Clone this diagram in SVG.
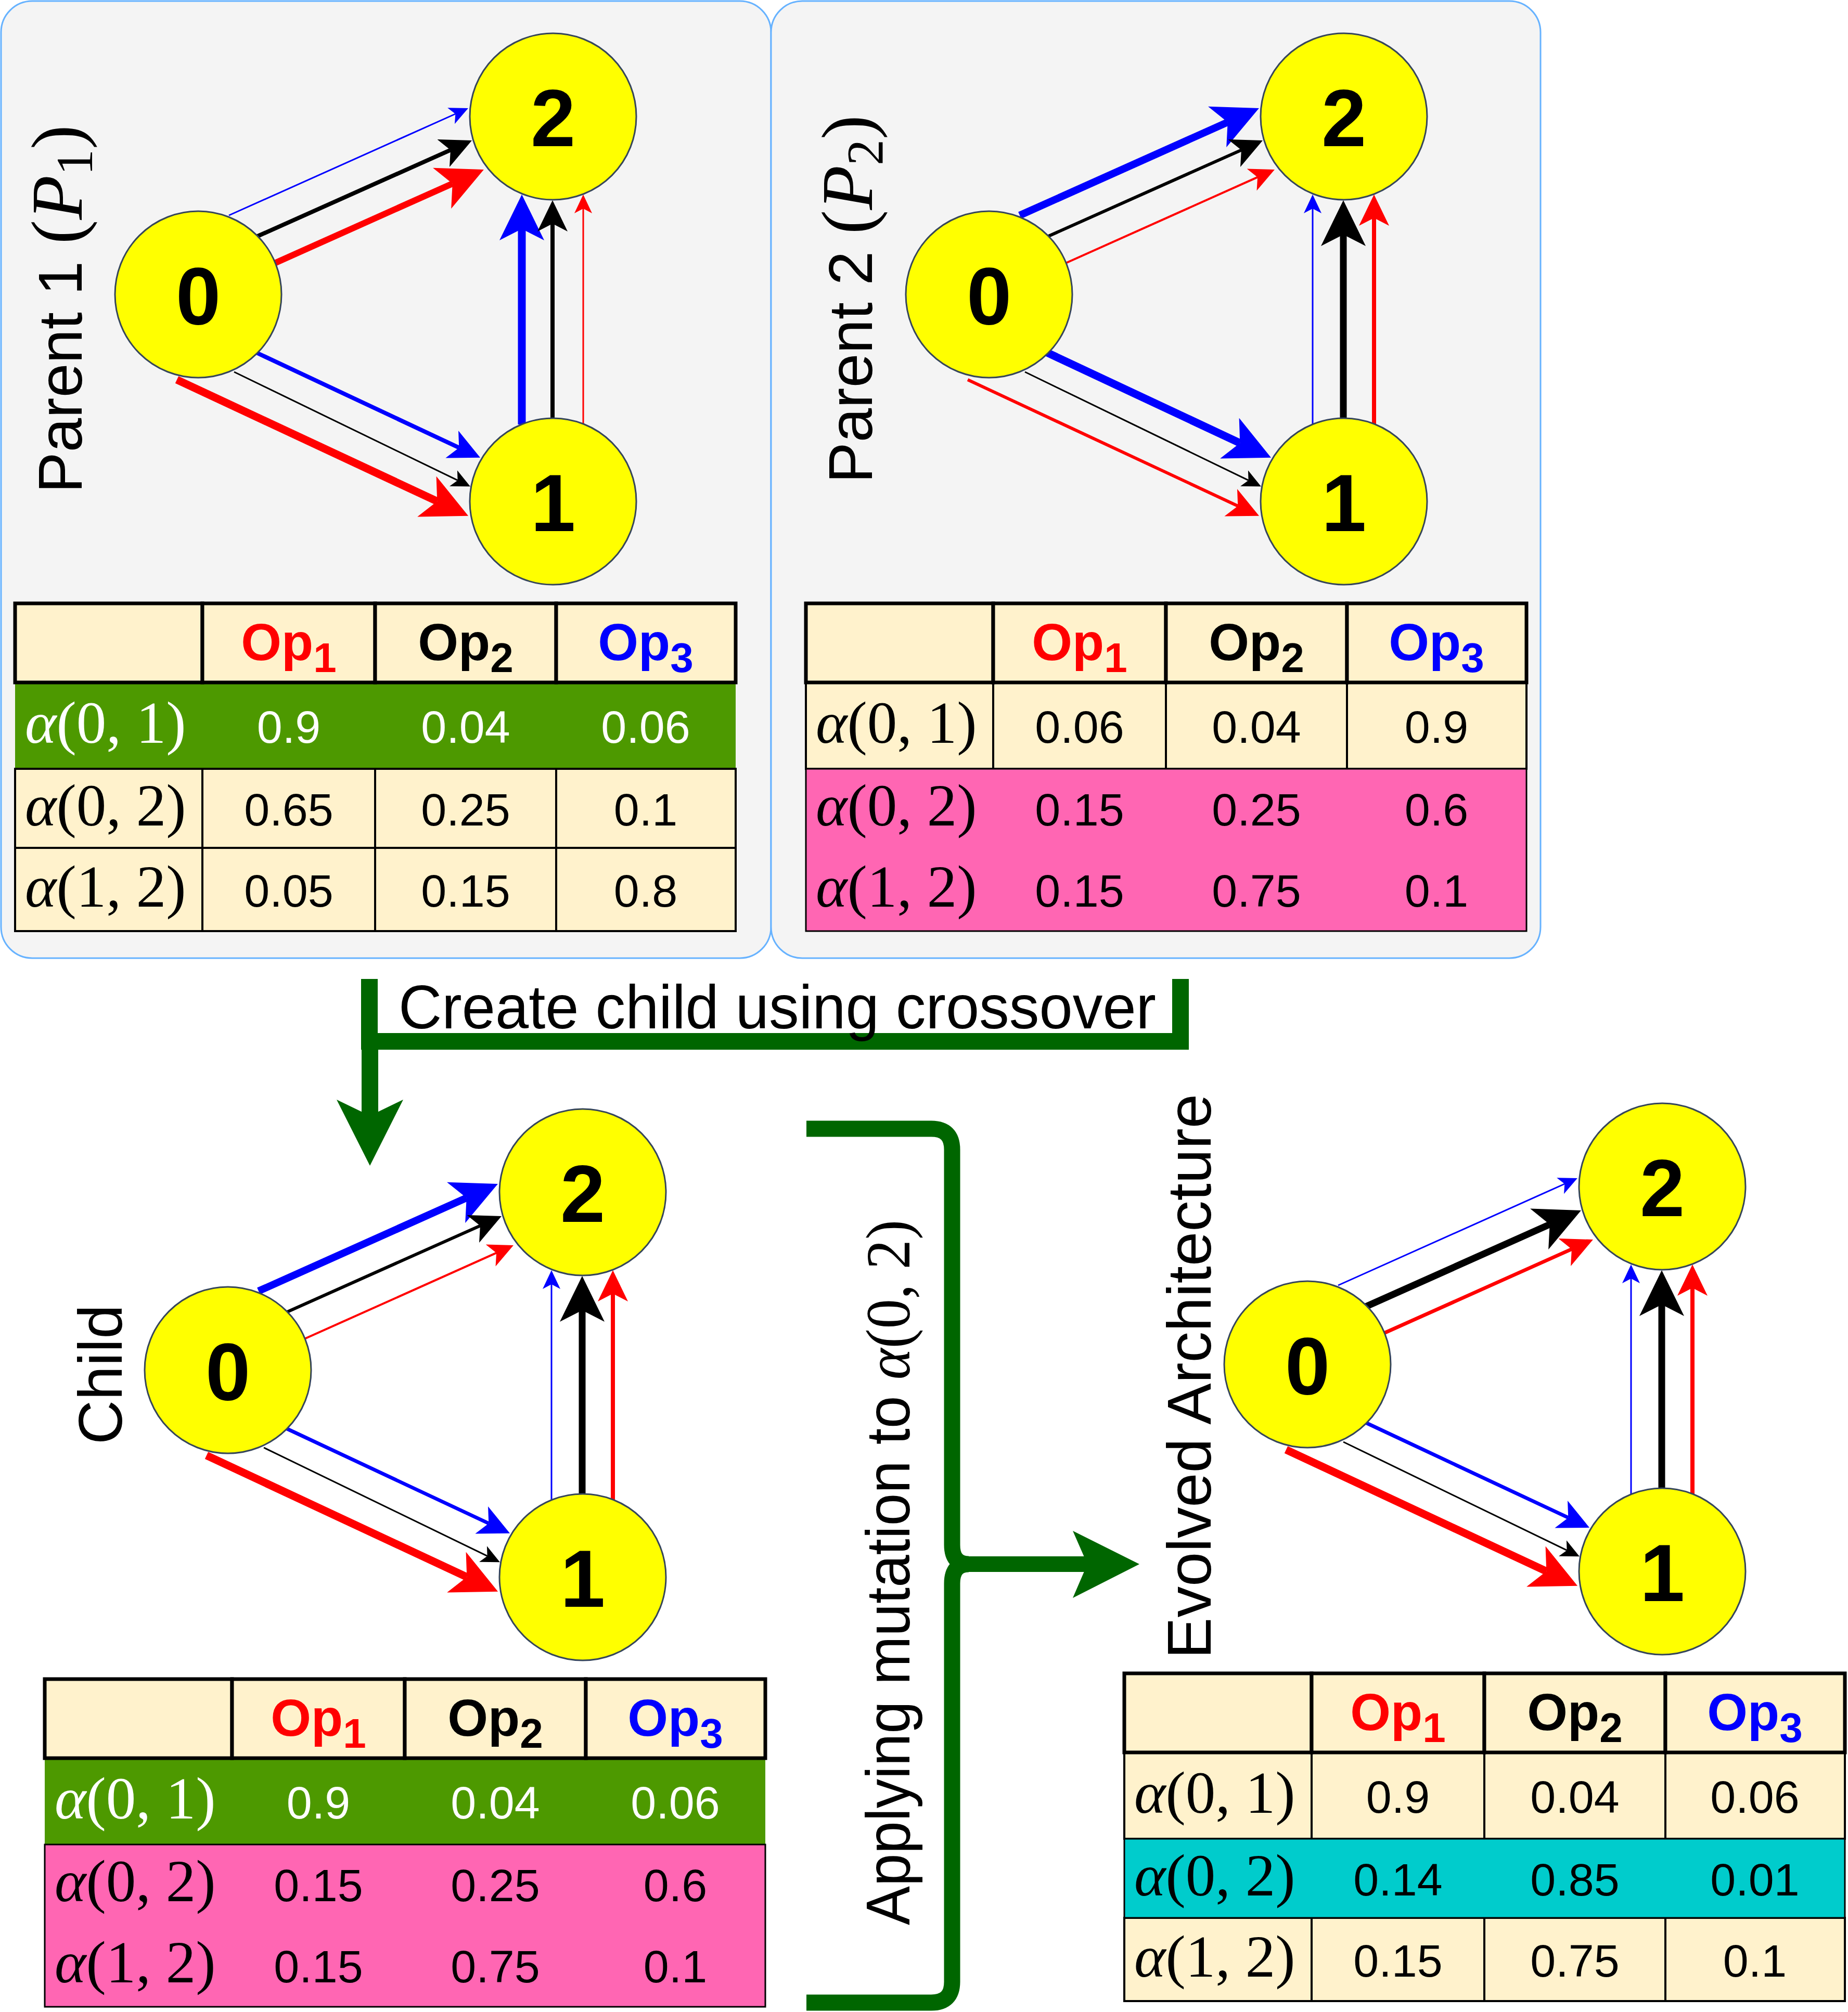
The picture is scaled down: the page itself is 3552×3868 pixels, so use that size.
<svg xmlns="http://www.w3.org/2000/svg" width="3552" height="3868" viewBox="0 0 3552 3868">
<style>
.panel{fill:#f4f4f4;stroke:#66b2ff;stroke-width:3}
.node circle{fill:#ffff00;stroke:#36465a;stroke-width:3}
.node text{font-family:'Liberation Sans',Arial,sans-serif;font-weight:bold;font-size:155px;text-anchor:middle;fill:#000}
.lab{font-family:'Liberation Sans',Arial,sans-serif;font-size:118px;fill:#000}
.math{font-family:'Liberation Serif','Times New Roman',serif}
.it{font-style:italic}
.num{font-family:'Liberation Sans',Arial,sans-serif;font-size:88px;text-anchor:middle;fill:#000}
.al{font-family:'Liberation Serif','Times New Roman',serif;font-size:115px;fill:#000}
.w .num,.w .al{fill:#fff}
.op{font-family:'Liberation Sans',Arial,sans-serif;font-weight:bold;font-size:100px;text-anchor:middle}
.hdr{fill:#fff2cc;stroke:#000;stroke-width:7}
.cell{fill:#fff2cc;stroke:#000;stroke-width:4}
.green{fill:#4d9900}
.pink{fill:#ff66b3;stroke:#000;stroke-width:3}
.cyan{fill:#00cccc;stroke:#000;stroke-width:3}
.e{fill:none;stroke-linecap:butt}
.r{stroke:#ff0000}.k{stroke:#000000}.b{stroke:#0000ff}
.g{fill:none;stroke:#006600}
</style>
<defs>
<marker id="r-t" viewBox="0 0 36 34" refX="9" refY="17" markerWidth="36" markerHeight="34" markerUnits="userSpaceOnUse" orient="auto"><path d="M0,0 L36,17 L0,34 L9,17 Z" fill="#ff0000"/></marker>
<marker id="r-s" viewBox="0 0 48 46" refX="12" refY="23" markerWidth="48" markerHeight="46" markerUnits="userSpaceOnUse" orient="auto"><path d="M0,0 L48,23 L0,46 L12,23 Z" fill="#ff0000"/></marker>
<marker id="r-m" viewBox="0 0 60 58" refX="15" refY="29" markerWidth="60" markerHeight="58" markerUnits="userSpaceOnUse" orient="auto"><path d="M0,0 L60,29 L0,58 L15,29 Z" fill="#ff0000"/></marker>
<marker id="r-k" viewBox="0 0 88 86" refX="22" refY="43" markerWidth="88" markerHeight="86" markerUnits="userSpaceOnUse" orient="auto"><path d="M0,0 L88,43 L0,86 L22,43 Z" fill="#ff0000"/></marker>
<marker id="k-t" viewBox="0 0 36 34" refX="9" refY="17" markerWidth="36" markerHeight="34" markerUnits="userSpaceOnUse" orient="auto"><path d="M0,0 L36,17 L0,34 L9,17 Z" fill="#000"/></marker>
<marker id="k-m" viewBox="0 0 60 58" refX="15" refY="29" markerWidth="60" markerHeight="58" markerUnits="userSpaceOnUse" orient="auto"><path d="M0,0 L60,29 L0,58 L15,29 Z" fill="#000"/></marker>
<marker id="k-k" viewBox="0 0 88 86" refX="22" refY="43" markerWidth="88" markerHeight="86" markerUnits="userSpaceOnUse" orient="auto"><path d="M0,0 L88,43 L0,86 L22,43 Z" fill="#000"/></marker>
<marker id="b-t" viewBox="0 0 36 34" refX="9" refY="17" markerWidth="36" markerHeight="34" markerUnits="userSpaceOnUse" orient="auto"><path d="M0,0 L36,17 L0,34 L9,17 Z" fill="#0000ff"/></marker>
<marker id="b-m" viewBox="0 0 60 58" refX="15" refY="29" markerWidth="60" markerHeight="58" markerUnits="userSpaceOnUse" orient="auto"><path d="M0,0 L60,29 L0,58 L15,29 Z" fill="#0000ff"/></marker>
<marker id="b-k" viewBox="0 0 88 86" refX="22" refY="43" markerWidth="88" markerHeight="86" markerUnits="userSpaceOnUse" orient="auto"><path d="M0,0 L88,43 L0,86 L22,43 Z" fill="#0000ff"/></marker>
</defs>

<rect width="3552" height="3868" fill="#ffffff"/>

<g id="panels">
<rect id="panel-p1" class="panel" x="2" y="2" width="1480" height="1840" rx="60"/>
<rect id="panel-p2" class="panel" x="1482" y="2" width="1479" height="1840" rx="60"/>
</g>

<g id="labels">
<text class="lab" transform="translate(157,948) rotate(-90)">Parent 1 <tspan class="math" font-size="140">(</tspan><tspan class="math it" font-size="140">P</tspan><tspan class="math" font-size="100" dy="20">1</tspan><tspan class="math" font-size="140" dy="-20">)</tspan></text>
<text class="lab" transform="translate(1676,929) rotate(-90)">Parent 2 <tspan class="math" font-size="140">(</tspan><tspan class="math it" font-size="140">P</tspan><tspan class="math" font-size="100" dy="20">2</tspan><tspan class="math" font-size="140" dy="-20">)</tspan></text>
<text class="lab" transform="translate(234,2777) rotate(-90)">Child</text>
<text class="lab" transform="translate(2327,3189) rotate(-90)" textLength="1086" lengthAdjust="spacingAndGlyphs">Evolved Architecture</text>
<text class="lab" font-size="107" transform="translate(1748,3701) rotate(-90)" textLength="1356" lengthAdjust="spacingAndGlyphs">Applying mutation to <tspan class="math it" font-size="120">α</tspan><tspan class="math" font-size="120">(0, 2)</tspan></text>
</g>

<g id="connectors">
<g id="edges-p1">
<path class="e b" stroke-width="3" d="M440,414 L875.3,219" marker-end="url(#b-t)"/>
<path class="e k" stroke-width="8" d="M493,455 L865.9,288.4" marker-end="url(#k-m)"/>
<path class="e r" stroke-width="12" d="M528,506 L869.7,352.9" marker-end="url(#r-k)"/>
<path class="e b" stroke-width="8" d="M493,678 L882.3,860.7" marker-end="url(#b-m)"/>
<path class="e k" stroke-width="3" d="M450,715 L879.6,923.4" marker-end="url(#k-t)"/>
<path class="e r" stroke-width="15" d="M340,730 L840.3,963.8" marker-end="url(#r-k)"/>
<path class="e b" stroke-width="15" d="M1003,816 V440" marker-end="url(#b-k)"/>
<path class="e k" stroke-width="8" d="M1062,804 V430" marker-end="url(#k-m)"/>
<path class="e r" stroke-width="3" d="M1121,815 V401" marker-end="url(#r-t)"/>
</g>
<g id="edges-p2" transform="translate(1520,0)">
<path class="e b" stroke-width="14" d="M440,414 L839.7,234.9" marker-end="url(#b-k)"/>
<path class="e k" stroke-width="6" d="M493,455 L865.9,288.4" marker-end="url(#k-m)"/>
<path class="e r" stroke-width="4" d="M528,506 L897.1,340.7" marker-end="url(#r-s)"/>
<path class="e b" stroke-width="15" d="M493,678 L863.3,851.8" marker-end="url(#b-k)"/>
<path class="e k" stroke-width="3" d="M450,715 L879.6,923.4" marker-end="url(#k-t)"/>
<path class="e r" stroke-width="6" d="M340,730 L859.3,972.7" marker-end="url(#r-m)"/>
<path class="e b" stroke-width="3" d="M1003,816 V401" marker-end="url(#b-t)"/>
<path class="e k" stroke-width="13" d="M1062,804 V451" marker-end="url(#k-k)"/>
<path class="e r" stroke-width="8" d="M1121,815 V419" marker-end="url(#r-m)"/>
</g>
<g id="edges-child" transform="translate(57,2068)">
<path class="e b" stroke-width="14" d="M440,414 L839.7,234.9" marker-end="url(#b-k)"/>
<path class="e k" stroke-width="6" d="M493,455 L865.9,288.4" marker-end="url(#k-m)"/>
<path class="e r" stroke-width="4" d="M528,506 L897.1,340.7" marker-end="url(#r-s)"/>
<path class="e b" stroke-width="7" d="M493,678 L882.3,860.7" marker-end="url(#b-m)"/>
<path class="e k" stroke-width="3" d="M450,715 L879.6,923.4" marker-end="url(#k-t)"/>
<path class="e r" stroke-width="15" d="M340,730 L840.3,963.8" marker-end="url(#r-k)"/>
<path class="e b" stroke-width="3" d="M1003,816 V401" marker-end="url(#b-t)"/>
<path class="e k" stroke-width="13" d="M1062,804 V451" marker-end="url(#k-k)"/>
<path class="e r" stroke-width="8" d="M1121,815 V419" marker-end="url(#r-m)"/>
</g>
<g id="edges-evolved" transform="translate(2132,2057)">
<path class="e b" stroke-width="3" d="M440,414 L875.3,219" marker-end="url(#b-t)"/>
<path class="e k" stroke-width="13" d="M493,455 L846.7,296.9" marker-end="url(#k-k)"/>
<path class="e r" stroke-width="7" d="M528,506 L888.9,344.4" marker-end="url(#r-m)"/>
<path class="e b" stroke-width="7" d="M493,678 L882.3,860.7" marker-end="url(#b-m)"/>
<path class="e k" stroke-width="3" d="M450,715 L879.6,923.4" marker-end="url(#k-t)"/>
<path class="e r" stroke-width="15" d="M340,730 L840.3,963.8" marker-end="url(#r-k)"/>
<path class="e b" stroke-width="3" d="M1003,816 V401" marker-end="url(#b-t)"/>
<path class="e k" stroke-width="13" d="M1062,804 V451" marker-end="url(#k-k)"/>
<path class="e r" stroke-width="8" d="M1121,815 V419" marker-end="url(#r-m)"/>
</g>
<g id="crossover-arrow">
<path class="g" stroke-width="32" stroke-linejoin="miter" d="M710,1882 V2002 H2269 V1882"/>
<path class="g" stroke-width="32" d="M711,2002 V2146"/>
<polygon points="647,2114 711,2241 775,2114 711,2145" fill="#006600"/>
</g>
<g id="mutation-arrow">
<path class="g" stroke-width="31" d="M1550,2170 H1790 Q1830,2170 1830,2210 V2970 Q1830,3007 1862,3007 Q1830,3007 1830,3044 V3810 Q1830,3850 1790,3850 H1550"/>
<path class="g" stroke-width="30" d="M1840,3007 H2092"/>
<polygon points="2062,2943 2190,3007 2062,3072 2090,3007" fill="#006600"/>
</g>
</g>

<text class="lab" font-size="116" x="766" y="1977" textLength="1456" lengthAdjust="spacingAndGlyphs">Create child using crossover</text>

<g id="nodes">
<g id="p1-node0" class="node"><circle cx="381" cy="566" r="160"/><text x="381" y="623">0</text></g>
<g id="p1-node1" class="node"><circle cx="1063" cy="964" r="160"/><text x="1063" y="1021">1</text></g>
<g id="p1-node2" class="node"><circle cx="1063" cy="224" r="160"/><text x="1063" y="281">2</text></g>
<g id="p2-node0" class="node"><circle cx="1901" cy="566" r="160"/><text x="1901" y="623">0</text></g>
<g id="p2-node1" class="node"><circle cx="2583" cy="964" r="160"/><text x="2583" y="1021">1</text></g>
<g id="p2-node2" class="node"><circle cx="2583" cy="224" r="160"/><text x="2583" y="281">2</text></g>
<g id="child-node0" class="node"><circle cx="438" cy="2634" r="160"/><text x="438" y="2691">0</text></g>
<g id="child-node1" class="node"><circle cx="1120" cy="3032" r="160"/><text x="1120" y="3089">1</text></g>
<g id="child-node2" class="node"><circle cx="1120" cy="2292" r="160"/><text x="1120" y="2349">2</text></g>
<g id="evo-node0" class="node"><circle cx="2513" cy="2623" r="160"/><text x="2513" y="2680">0</text></g>
<g id="evo-node1" class="node"><circle cx="3195" cy="3021" r="160"/><text x="3195" y="3078">1</text></g>
<g id="evo-node2" class="node"><circle cx="3195" cy="2281" r="160"/><text x="3195" y="2338">2</text></g>
</g>

<g id="table-p1">
<g class="w">
<rect class="green" x="29" y="1312" width="1385" height="166"/>
<text class="al" x="48" y="1428"><tspan class="it">α</tspan>(0, 1)</text>
<text class="num" x="555" y="1428">0.9</text><text class="num" x="895" y="1428">0.04</text><text class="num" x="1241" y="1428">0.06</text>
</g>
<rect class="cell" x="29" y="1478" width="360" height="152"/><rect class="cell" x="389" y="1478" width="332" height="152"/><rect class="cell" x="721" y="1478" width="348" height="152"/><rect class="cell" x="1069" y="1478" width="345" height="152"/>
<text class="al" x="48" y="1587"><tspan class="it">α</tspan>(0, 2)</text>
<text class="num" x="555" y="1587">0.65</text><text class="num" x="895" y="1587">0.25</text><text class="num" x="1241" y="1587">0.1</text>
<rect class="cell" x="29" y="1630" width="360" height="160"/><rect class="cell" x="389" y="1630" width="332" height="160"/><rect class="cell" x="721" y="1630" width="348" height="160"/><rect class="cell" x="1069" y="1630" width="345" height="160"/>
<text class="al" x="48" y="1743"><tspan class="it">α</tspan>(1, 2)</text>
<text class="num" x="555" y="1743">0.05</text><text class="num" x="895" y="1743">0.15</text><text class="num" x="1241" y="1743">0.8</text>
<rect class="hdr" x="29" y="1160" width="360" height="152"/><rect class="hdr" x="389" y="1160" width="332" height="152"/><rect class="hdr" x="721" y="1160" width="348" height="152"/><rect class="hdr" x="1069" y="1160" width="345" height="152"/>
<text class="op" x="555" y="1269" fill="#ff0000">Op<tspan font-size="80" dy="23">1</tspan></text>
<text class="op" x="895" y="1269" fill="#000">Op<tspan font-size="80" dy="23">2</tspan></text>
<text class="op" x="1241" y="1269" fill="#0000ff">Op<tspan font-size="80" dy="23">3</tspan></text>
</g>

<g id="table-p2" transform="translate(1520,0)">
<rect class="cell" x="29" y="1312" width="360" height="166"/><rect class="cell" x="389" y="1312" width="332" height="166"/><rect class="cell" x="721" y="1312" width="348" height="166"/><rect class="cell" x="1069" y="1312" width="345" height="166"/>
<text class="al" x="48" y="1428"><tspan class="it">α</tspan>(0, 1)</text>
<text class="num" x="555" y="1428">0.06</text><text class="num" x="895" y="1428">0.04</text><text class="num" x="1241" y="1428">0.9</text>
<rect class="pink" x="29" y="1478" width="1385" height="312"/>
<text class="al" x="48" y="1587"><tspan class="it">α</tspan>(0, 2)</text>
<text class="num" x="555" y="1587">0.15</text><text class="num" x="895" y="1587">0.25</text><text class="num" x="1241" y="1587">0.6</text>
<text class="al" x="48" y="1743"><tspan class="it">α</tspan>(1, 2)</text>
<text class="num" x="555" y="1743">0.15</text><text class="num" x="895" y="1743">0.75</text><text class="num" x="1241" y="1743">0.1</text>
<rect class="hdr" x="29" y="1160" width="360" height="152"/><rect class="hdr" x="389" y="1160" width="332" height="152"/><rect class="hdr" x="721" y="1160" width="348" height="152"/><rect class="hdr" x="1069" y="1160" width="345" height="152"/>
<text class="op" x="555" y="1269" fill="#ff0000">Op<tspan font-size="80" dy="23">1</tspan></text>
<text class="op" x="895" y="1269" fill="#000">Op<tspan font-size="80" dy="23">2</tspan></text>
<text class="op" x="1241" y="1269" fill="#0000ff">Op<tspan font-size="80" dy="23">3</tspan></text>
</g>

<g id="table-child" transform="translate(57,2068)">
<g class="w">
<rect class="green" x="29" y="1312" width="1385" height="166"/>
<text class="al" x="48" y="1428"><tspan class="it">α</tspan>(0, 1)</text>
<text class="num" x="555" y="1428">0.9</text><text class="num" x="895" y="1428">0.04</text><text class="num" x="1241" y="1428">0.06</text>
</g>
<rect class="pink" x="29" y="1478" width="1385" height="312"/>
<text class="al" x="48" y="1587"><tspan class="it">α</tspan>(0, 2)</text>
<text class="num" x="555" y="1587">0.15</text><text class="num" x="895" y="1587">0.25</text><text class="num" x="1241" y="1587">0.6</text>
<text class="al" x="48" y="1743"><tspan class="it">α</tspan>(1, 2)</text>
<text class="num" x="555" y="1743">0.15</text><text class="num" x="895" y="1743">0.75</text><text class="num" x="1241" y="1743">0.1</text>
<rect class="hdr" x="29" y="1160" width="360" height="152"/><rect class="hdr" x="389" y="1160" width="332" height="152"/><rect class="hdr" x="721" y="1160" width="348" height="152"/><rect class="hdr" x="1069" y="1160" width="345" height="152"/>
<text class="op" x="555" y="1269" fill="#ff0000">Op<tspan font-size="80" dy="23">1</tspan></text>
<text class="op" x="895" y="1269" fill="#000">Op<tspan font-size="80" dy="23">2</tspan></text>
<text class="op" x="1241" y="1269" fill="#0000ff">Op<tspan font-size="80" dy="23">3</tspan></text>
</g>

<g id="table-evolved" transform="translate(2132,2057)">
<rect class="cell" x="29" y="1312" width="360" height="166"/><rect class="cell" x="389" y="1312" width="332" height="166"/><rect class="cell" x="721" y="1312" width="348" height="166"/><rect class="cell" x="1069" y="1312" width="345" height="166"/>
<text class="al" x="48" y="1428"><tspan class="it">α</tspan>(0, 1)</text>
<text class="num" x="555" y="1428">0.9</text><text class="num" x="895" y="1428">0.04</text><text class="num" x="1241" y="1428">0.06</text>
<rect class="cell" x="29" y="1630" width="360" height="160"/><rect class="cell" x="389" y="1630" width="332" height="160"/><rect class="cell" x="721" y="1630" width="348" height="160"/><rect class="cell" x="1069" y="1630" width="345" height="160"/>
<text class="al" x="48" y="1743"><tspan class="it">α</tspan>(1, 2)</text>
<text class="num" x="555" y="1743">0.15</text><text class="num" x="895" y="1743">0.75</text><text class="num" x="1241" y="1743">0.1</text>
<rect class="cyan" x="29" y="1478" width="1385" height="152"/>
<text class="al" x="48" y="1587"><tspan class="it">α</tspan>(0, 2)</text>
<text class="num" x="555" y="1587">0.14</text><text class="num" x="895" y="1587">0.85</text><text class="num" x="1241" y="1587">0.01</text>
<rect class="hdr" x="29" y="1160" width="360" height="152"/><rect class="hdr" x="389" y="1160" width="332" height="152"/><rect class="hdr" x="721" y="1160" width="348" height="152"/><rect class="hdr" x="1069" y="1160" width="345" height="152"/>
<text class="op" x="555" y="1269" fill="#ff0000">Op<tspan font-size="80" dy="23">1</tspan></text>
<text class="op" x="895" y="1269" fill="#000">Op<tspan font-size="80" dy="23">2</tspan></text>
<text class="op" x="1241" y="1269" fill="#0000ff">Op<tspan font-size="80" dy="23">3</tspan></text>
</g>
</svg>
